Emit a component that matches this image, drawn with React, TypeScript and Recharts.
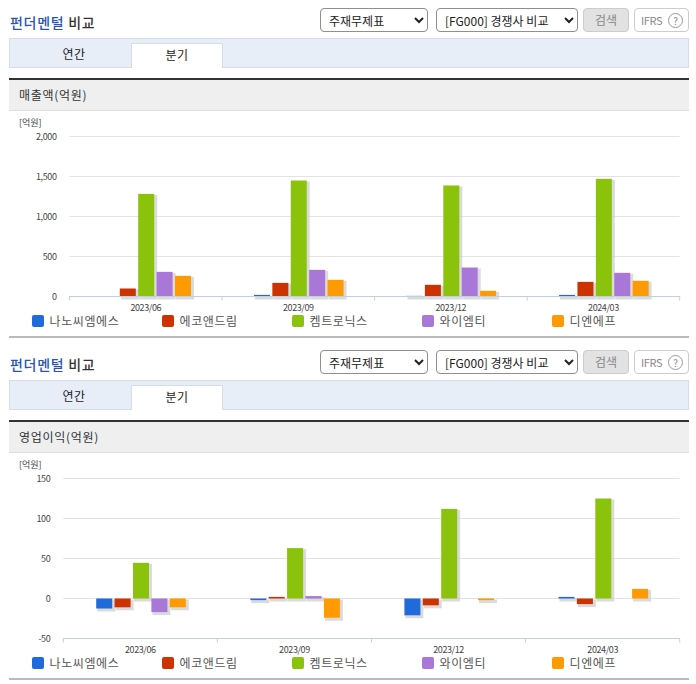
import React from 'react';
import { BarChart, Bar, XAxis, YAxis, CartesianGrid } from 'recharts';

const FONT = '"Noto Sans CJK KR", "Noto Sans", sans-serif';

const quarters = ['2023/06', '2023/09', '2023/12', '2024/03'];
const companies = ['나노씨엠에스', '에코앤드림', '켐트로닉스', '와이엠티', '디엔에프'];
const colors = ['#1f6bdc', '#cc3300', '#8bc30c', '#a877d8', '#ff9a00'];

const salesNano = [0, 20, 8, 20];
const salesEco = [100, 170, 146, 183];
const salesChem = [1283, 1450, 1388, 1471];
const salesYmt = [308, 333, 362, 296];
const salesDnf = [258, 208, 71, 196];
const salesTicks = [0, 500, 1000, 1500, 2000];

const profitNano = [-12.5, -2, -21, 2];
const profitEco = [-11, 2, -8.5, -7];
const profitChem = [44.6, 63, 112, 125];
const profitYmt = [-17, 3, 0, 0];
const profitDnf = [-11, -24, -2, 12];
const profitTicks = [-50, 0, 50, 100, 150];

const makeRows = (series: number[][]) =>
  quarters.map((name, i) => {
    const row: any = { name };
    series.forEach((values, s) => {
      row['s' + s] = values[i];
    });
    return row;
  });

const salesRows = makeRows([salesNano, salesEco, salesChem, salesYmt, salesDnf]);
const profitRows = makeRows([profitNano, profitEco, profitChem, profitYmt, profitDnf]);

const ShadowBar = (props: any) => {
  const { x, y, width, height, fill } = props;
  if (!height) return null;
  const top = Math.min(y, y + height);
  const h = Math.abs(height);
  return (
    <g transform="translate(0.9,0)">
      <rect x={x + 1} y={top + 1} width={width + 2} height={h + 2} fill="#cfcfcf" fillOpacity={0.75} />
      <rect x={x} y={top} width={width} height={h} fill={fill} />
    </g>
  );
};

const BandTick = (props: any) => {
  const { x, y, payload, index, band } = props;
  return (
    <g>
      <line x1={x - band / 2} x2={x - band / 2} y1={y - 8} y2={y - 4} stroke="#c0d0e0" />
      {index === quarters.length - 1 && (
        <line x1={x + band / 2} x2={x + band / 2} y1={y - 8} y2={y - 4} stroke="#c0d0e0" />
      )}
      <text x={x} y={y + 6} textAnchor="middle" fontSize={9} letterSpacing={-0.4} fill="#444" fontFamily={FONT}>
        {payload.value}
      </text>
    </g>
  );
};

const box = (left: number, top: number, width: number, height: number): React.CSSProperties => ({
  position: 'absolute',
  left,
  top,
  width,
  height,
  boxSizing: 'border-box',
});

const controlFont: React.CSSProperties = { fontFamily: FONT, fontSize: 12, color: '#222' };

type BlockProps = {
  top: number;
  heading: string;
  rows: any[];
  ticks: number[];
  domain: [number, number];
  yWidth: number;
};

const Block: React.FC<BlockProps> = ({ top, heading, rows, ticks, domain, yWidth }) => {
  const band = (679.7 - yWidth) / quarters.length;

  return (
    <div style={box(0, top, 696, 342)}>
      <div style={{ position: 'absolute', left: 10, top: 12, fontFamily: FONT, fontSize: 14, fontWeight: 500, letterSpacing: 0.7, lineHeight: '20px', color: '#333', whiteSpace: 'nowrap' }}>
        <span style={{ color: '#2b55b5' }}>펀더멘털</span> 비교
      </div>

      <select style={{ ...box(320, 8, 108, 24), ...controlFont, border: '1px solid #8f8f8f', borderRadius: 4, background: '#fff', paddingLeft: 4 }} defaultValue="a">
        <option value="a">주재무제표</option>
      </select>
      <select style={{ ...box(436, 8, 142, 24), ...controlFont, border: '1px solid #8f8f8f', borderRadius: 4, background: '#fff', paddingLeft: 4 }} defaultValue="a">
        <option value="a">[FG000] 경쟁사 비교</option>
      </select>
      <div style={{ ...box(583, 8, 46, 24), ...controlFont, color: '#888', background: '#e2e2e2', border: '1px solid #ccc', borderRadius: 4, textAlign: 'center', lineHeight: '22px' }}>
        검색
      </div>
      <div style={{ ...box(634, 8, 55, 24), ...controlFont, fontSize: 11, letterSpacing: -0.4, color: '#888', background: '#fff', border: '1px solid #ccc', borderRadius: 4, paddingLeft: 6, lineHeight: '22px' }}>
        IFRS
        <span style={{ ...box(33, 4, 15, 15), border: '1px solid #999', borderRadius: 8, fontSize: 10, lineHeight: '13px', textAlign: 'center' }}>?</span>
      </div>

      <div style={{ ...box(9, 38, 680, 30), background: '#e8eef8', border: '1px solid #d5dde8' }} />
      <div style={{ ...box(9, 38, 130, 30), ...controlFont, letterSpacing: 0.5, textAlign: 'center', lineHeight: '31px' }}>연간</div>
      <div style={{ ...box(131, 43, 92, 25), ...controlFont, letterSpacing: 0.5, background: '#fff', border: '1px solid #d5dde8', borderBottom: 'none', textAlign: 'center', lineHeight: '22px' }}>분기</div>

      <div style={{ ...box(9, 78, 680, 33), background: '#efefef', borderTop: '2px solid #333', borderBottom: '1px solid #ddd' }} />
      <div style={{ position: 'absolute', left: 19, top: 86, fontFamily: FONT, fontSize: 12, letterSpacing: 0.7, lineHeight: '18px', color: '#333' }}>{heading}</div>
      <div style={{ position: 'absolute', left: 19, top: 116, fontFamily: FONT, fontSize: 9, lineHeight: '14px', color: '#444' }}>[억원]</div>

      <div style={box(0, 110, 696, 224)}>
        <BarChart
          width={696}
          height={224}
          data={rows}
          barSize={16}
          barGap={2.4}
          margin={{ top: 26.5, right: 16.3, bottom: 17.5, left: 0 }}
        >
          <CartesianGrid vertical={false} stroke="#e3e3e3" />
          <XAxis
            dataKey="name"
            height={20}
            tickLine={false}
            axisLine={{ stroke: '#c0d0e0' }}
            interval={0}
            tick={<BandTick band={band} />}
          />
          <YAxis
            width={yWidth}
            domain={domain}
            ticks={ticks}
            interval={0}
            axisLine={false}
            tickLine={false}
            tickMargin={7}
            tickFormatter={(v: number) => new Intl.NumberFormat('en').format(v)}
            tick={{ fontSize: 9, letterSpacing: -0.4, fill: '#444', fontFamily: FONT }}
          />
          {companies.map((name, i) => (
            <Bar key={name} dataKey={'s' + i} fill={colors[i]} shape={ShadowBar} isAnimationActive={false} />
          ))}
        </BarChart>
      </div>

      {companies.map((name, i) => (
        <div key={name} style={{ position: 'absolute', left: 32 + i * 130, top: 314, height: 12, whiteSpace: 'nowrap' }}>
          <span style={{ ...box(0, 0.5, 12, 12), background: colors[i], borderRadius: 2 }} />
          <span style={{ position: 'absolute', left: 17.5, top: 0, fontFamily: FONT, fontSize: 12, letterSpacing: 0.6, lineHeight: '13px', color: '#555' }}>{name}</span>
        </div>
      ))}

      <div style={{ ...box(9, 336, 680, 2), background: '#bbb' }} />
    </div>
  );
};

export default function App() {
  return (
    <div style={box(0, 0, 696, 684)}>
      <Block top={0} heading="매출액(억원)" rows={salesRows} ticks={salesTicks} domain={[0, 2000]} yWidth={69.5} />
      <Block top={342} heading="영업이익(억원)" rows={profitRows} ticks={profitTicks} domain={[-50, 150]} yWidth={63.3} />
    </div>
  );
}
